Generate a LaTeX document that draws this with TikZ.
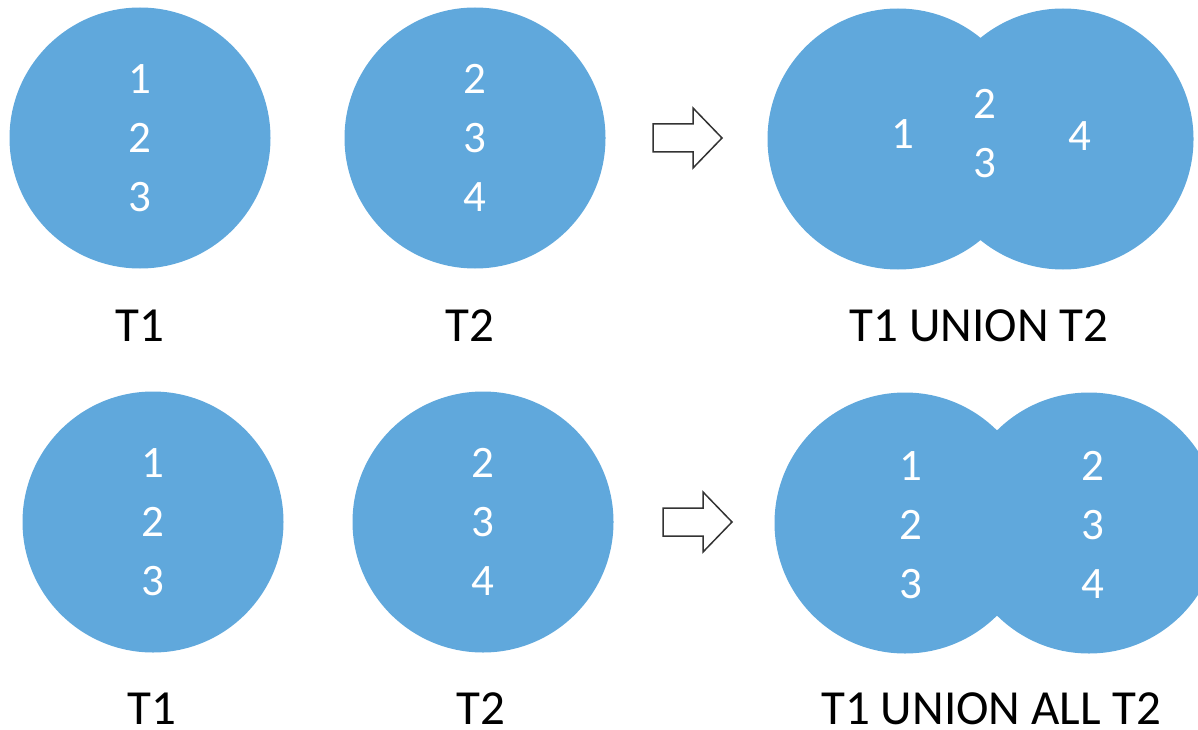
\documentclass[tikz,border=0pt]{standalone}
\usepackage{fontspec}
\setmainfont{Carlito}
\usetikzlibrary{positioning}
\definecolor{setblue}{RGB}{96,168,220}
\tikzset{
  setdisc/.style={circle, fill=setblue, minimum size=261pt, inner sep=0pt, text=white, align=center, font=\fontsize{45}{59}\selectfont},
  num/.style={text=white, inner sep=0pt, align=center, font=\fontsize{45}{59}\selectfont},
  caption/.style={inner sep=0pt, font=\fontsize{49}{59}\selectfont},
  hollow/.style={draw=black!80, line width=1.5pt, fill=white, line join=miter}
}

\begin{document}
\begin{tikzpicture}[x=1pt,y=-1pt]
\clip (0,0) rectangle (1198,730);
% top row: T1, T2 and T1 UNION T2
\node[setdisc] (t1a) at (140,138) {1\\2\\3};
\node[setdisc] (t2a) at (475,138) {2\\3\\4};
\begin{scope}[shift={(653,138)}]
  \draw[hollow] (0,-14) -- (40,-14) -- (40,-30) -- (69,0) -- (40,30) -- (40,14) -- (0,14) -- cycle;
\end{scope}
\node[setdisc] (ua) at (898,139) {};
\node[setdisc] (ub) at (1063,139) {};
\node[num] (ua1) at (903,134) {1};
\node[num] (uab) at (985,134) {2\\3};
\node[num] (ub4) at (1080,136) {4};
\node[caption] (lt1a) at (140,326) {T1};
\node[caption] (lt2a) at (470,326) {T2};
\node[caption] (lua) at (979,326) {T1 UNION T2};
% bottom row: T1, T2 and T1 UNION ALL T2
\node[setdisc] (t1b) at (153,522) {1\\2\\3};
\node[setdisc] (t2b) at (483,522) {2\\3\\4};
\begin{scope}[shift={(663,522)}]
  \draw[hollow] (0,-14) -- (40,-14) -- (40,-30) -- (69,0) -- (40,30) -- (40,14) -- (0,14) -- cycle;
\end{scope}
\node[setdisc] (va) at (905,523) {};
\node[setdisc] (vb) at (1089,523) {};
\node[num] (vacol) at (911,525) {1\\2\\3};
\node[num] (vbcol) at (1093,525) {2\\3\\4};
\node[caption] (lt1b) at (152,709) {T1};
\node[caption] (lt2b) at (481,709) {T2};
\node[caption] (lub) at (991,709) {T1 UNION ALL T2};
\end{tikzpicture}
\end{document}
